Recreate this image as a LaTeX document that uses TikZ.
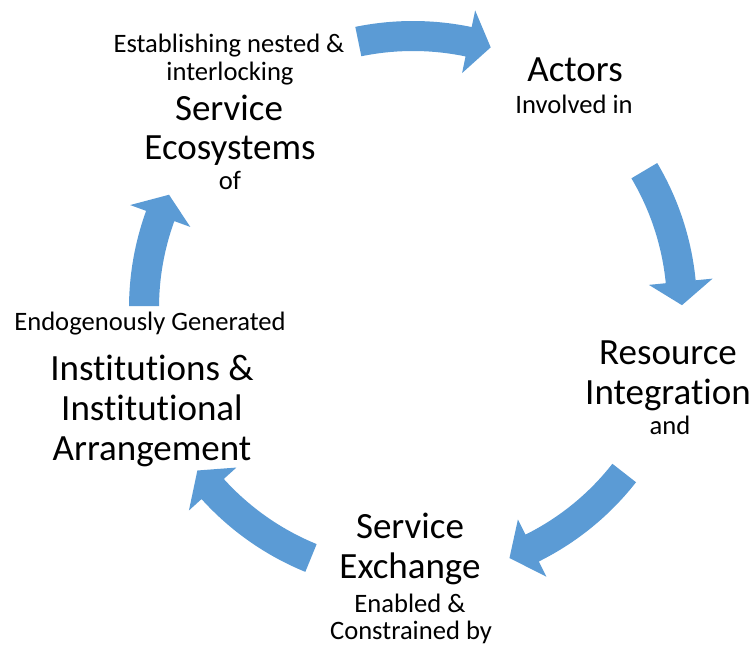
\documentclass[tikz,border=0pt]{standalone}
\usepackage{fontspec}
\setmainfont{Carlito}[Ligatures=NoCommon]
\definecolor{arrowblue}{RGB}{91,155,213}
\tikzset{
  bigtext/.style={font=\fontsize{37}{41}\selectfont, anchor=base, inner sep=0pt},
  smalltext/.style={font=\fontsize{26.6}{30}\selectfont, anchor=base, inner sep=0pt},
  cyclearrow/.style={fill=arrowblue}
}
% #1 tail angle, #2 head-base angle, #3 tip angle,
% #4 outer radius, #5 inner radius, #6 outer barb, #7 inner barb, #8 tip radius
\newcommand\cycarrow[8]{%
  \fill[cyclearrow] ([shift={(#1:#4)}]C) arc[start angle=#1,end angle=#2,radius=#4]
    -- ([shift={(#2:#6)}]C) -- ([shift={(#3:#8)}]C) -- ([shift={(#2:#7)}]C)
    -- ([shift={(#2:#5)}]C) arc[start angle=#2,end angle=#1,radius=#5] -- cycle;}
\begin{document}
\begin{tikzpicture}[x=1pt,y=1pt]
\useasboundingbox (0,0) rectangle (754,646);
\coordinate (C) at (413,338);
% arrows
\cycarrow{101.6}{78.2}{73.4}{287}{257}{304}{240}{272}
\cycarrow{30.7}{5.6}{0.6}{284}{254}{301}{237}{269}
\cycarrow{-38}{-63.6}{-68.9}{283}{253}{300}{236}{268}
\cycarrow{-112.2}{-137.9}{-143}{285}{255}{302}{238}{270}
\cycarrow{179.6}{160}{155.1}{284}{254}{301}{237}{269}
% top-left block
\node[smalltext] (est) at (229,593) {Establishing nested \&};
\node[smalltext] (inter) at (230,565) {interlocking};
\node[bigtext] (serv1) at (229,525) {Service};
\node[bigtext] (eco) at (230,486) {Ecosystems};
\node[smalltext] (of) at (230,456) {of};
% actors
\node[bigtext] (act) at (575,564) {Actors};
\node[smalltext] (inv) at (574,532) {Involved in};
% resource integration
\node[bigtext] (res) at (668,282) {Resource};
\node[bigtext] (integ) at (668,242) {Integration};
\node[smalltext] (and) at (670,212) {and};
% service exchange
\node[bigtext] (serv2) at (410,108) {Service};
\node[bigtext] (exch) at (410,68) {Exchange};
\node[smalltext] (enab) at (410,34) {Enabled \&};
\node[smalltext] (cons) at (411,7) {Constrained by};
% institutions
\node[smalltext] (endo) at (150,316) {Endogenously Generated};
\node[bigtext] (inst1) at (152,266) {Institutions \&};
\node[bigtext] (inst2) at (152,226) {Institutional};
\node[bigtext] (arr) at (152,186) {Arrangement};
\end{tikzpicture}
\end{document}
